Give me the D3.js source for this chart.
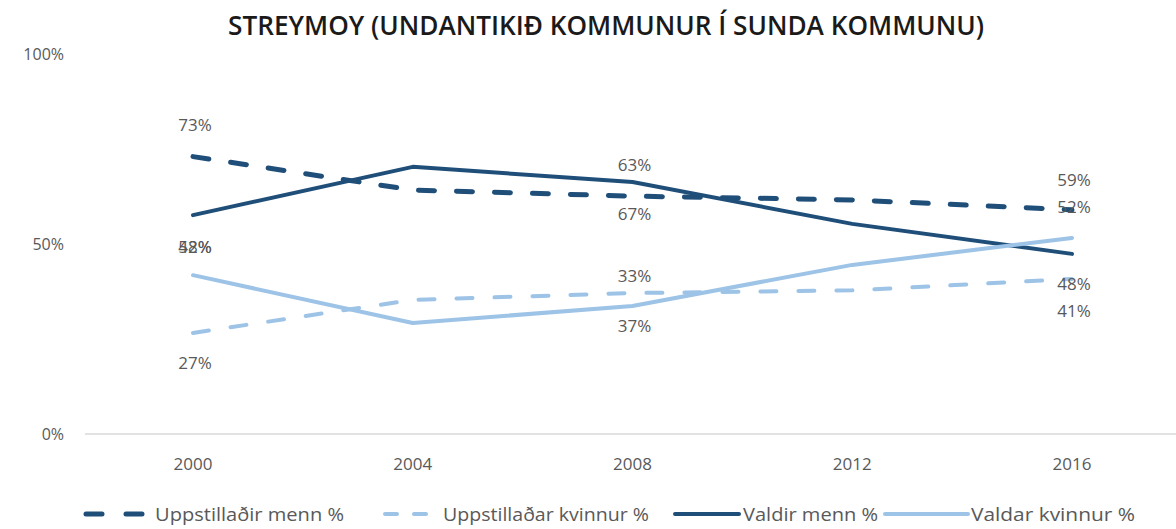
<!DOCTYPE html>
<html>
<head>
<meta charset="utf-8">
<script src="https://cdn.jsdelivr.net/npm/d3@7"></script>
<style>
  body { margin: 0; background: #fff; }
  svg { display: block; }
  text { font-family: "Open Sans", "Noto Sans", sans-serif; fill: #595959; }
</style>
</head>
<body>
<svg id="chart" width="1176" height="529"></svg>
<script>
// chart data
const years = ['2000', '2004', '2008', '2012', '2016'];
const uppMenn = [73, 64.2, 62.6, 61.6, 59];
const uppKvinnur = [26.6, 35.3, 37.1, 37.8, 40.8];
const valdirMenn = [57.6, 70.3, 66.3, 55.3, 47.4];
const valdarKvinnur = [41.8, 29.2, 33.7, 44.5, 51.6];
const yTicks = [0, 50, 100];

// labels shown on the chart (year, text, value where the label sits)
const pointLabels = [
  { year: '2000', text: '73%', v: 81.2 },
  { year: '2000', text: '42%', v: 49.3 },
  { year: '2000', text: '58%', v: 49.3 },
  { year: '2000', text: '27%', v: 18.7 },
  { year: '2008', text: '63%', v: 70.7 },
  { year: '2008', text: '67%', v: 58 },
  { year: '2008', text: '33%', v: 41.6 },
  { year: '2008', text: '37%', v: 28.4 },
  { year: '2016', text: '59%', v: 66.8 },
  { year: '2016', text: '52%', v: 59.7 },
  { year: '2016', text: '48%', v: 39.4 },
  { year: '2016', text: '41%', v: 32.3 }
];

const series = [
  { name: 'Uppstillaðir menn %', values: uppMenn, color: '#1f4e79', dash: '16,22', width: 5 },
  { name: 'Uppstillaðar kvinnur %', values: uppKvinnur, color: '#9dc3e6', dash: '16,22', width: 4 },
  { name: 'Valdir menn %', values: valdirMenn, color: '#1f4e79', dash: null, width: 4 },
  { name: 'Valdar kvinnur %', values: valdarKvinnur, color: '#9dc3e6', dash: null, width: 4 }
];

const svg = d3.select('#chart');

const x = d3.scalePoint().domain(years).range([193, 1072]);
const y = d3.scaleLinear().domain([0, 100]).range([434, 54]);

// title
svg.append('text')
  .attr('x', 606)
  .attr('y', 35)
  .attr('text-anchor', 'middle')
  .style('font-size', '27px')
  .style('font-weight', '600')
  .style('fill', '#1a1a1a')
  .attr('textLength', 756)
  .attr('lengthAdjust', 'spacingAndGlyphs')
  .text('STREYMOY (UNDANTIKIÐ KOMMUNUR Í SUNDA KOMMUNU)');

// baseline
svg.append('line')
  .attr('x1', 85).attr('x2', 1176)
  .attr('y1', y(0)).attr('y2', y(0))
  .attr('stroke', '#d9d9d9')
  .attr('stroke-width', 1.5);

// y tick labels
svg.selectAll('.ytick')
  .data(yTicks)
  .enter().append('text')
  .attr('class', 'ytick')
  .attr('x', 64)
  .attr('y', d => y(d) + 6)
  .attr('text-anchor', 'end')
  .style('font-size', '16px')
  .text(d => d + '%');

// x tick labels
svg.selectAll('.xtick')
  .data(years)
  .enter().append('text')
  .attr('class', 'xtick')
  .attr('x', d => x(d))
  .attr('y', 470)
  .attr('text-anchor', 'middle')
  .style('font-size', '17px')
  .text(d => d);

const line = d3.line()
  .x((d, i) => x(years[i]))
  .y(d => y(d));

series.forEach(s => {
  svg.append('path')
    .datum(s.values)
    .attr('d', line)
    .attr('fill', 'none')
    .attr('stroke', s.color)
    .attr('stroke-width', s.width)
    .attr('stroke-linecap', 'round')
    .attr('stroke-linejoin', 'round')
    .attr('stroke-dasharray', s.dash);
});

// data labels
svg.selectAll('.plabel')
  .data(pointLabels)
  .enter().append('text')
  .attr('class', 'plabel')
  .attr('x', d => x(d.year) + 2)
  .attr('y', d => y(d.v) + 6)
  .attr('text-anchor', 'middle')
  .style('font-size', '17px')
  .text(d => d.text);

// legend
const legendX = [86, 385, 675, 885];
const legendSym = [57, 43, 64, 83];
const legendTextX = [69, 58, 68, 86];
const legendTextW = [189, 206, 135, 164];

const legend = svg.selectAll('.legend')
  .data(series)
  .enter().append('g')
  .attr('class', 'legend')
  .attr('transform', (d, i) => `translate(${legendX[i]},514)`);

legend.append('line')
  .attr('x1', 0).attr('x2', (d, i) => legendSym[i])
  .attr('y1', 0).attr('y2', 0)
  .attr('stroke', d => d.color)
  .attr('stroke-width', d => d.width)
  .attr('stroke-linecap', 'round')
  .attr('stroke-dasharray', (d, i) => d.dash ? (i === 0 ? '16,24' : '12,17') : null);

legend.append('text')
  .attr('x', (d, i) => legendTextX[i])
  .attr('y', 7)
  .style('font-size', '18px')
  .attr('textLength', (d, i) => legendTextW[i])
  .attr('lengthAdjust', 'spacingAndGlyphs')
  .text(d => d.name);
</script>
</body>
</html>
